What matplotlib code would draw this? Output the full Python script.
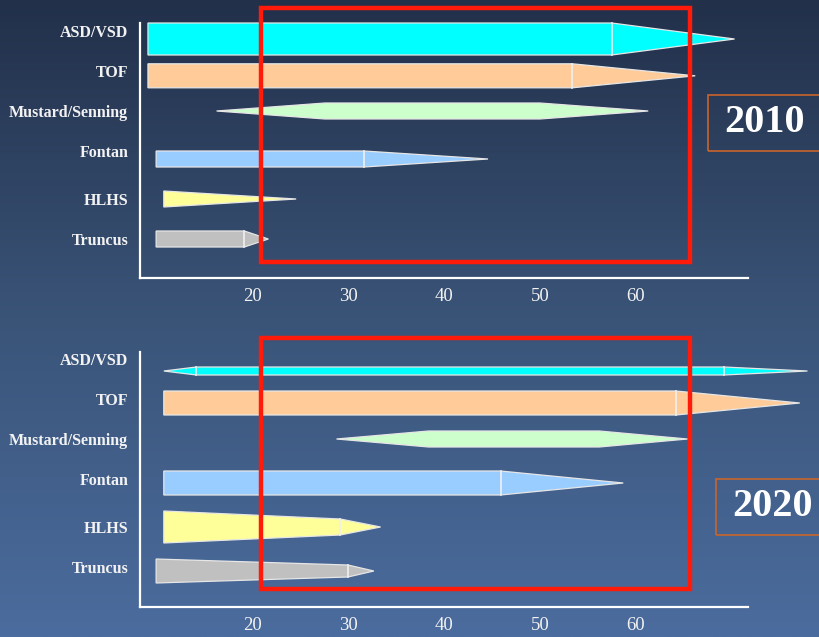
import matplotlib
matplotlib.use("Agg")
import matplotlib.pyplot as plt
import numpy as np
from matplotlib.colors import LinearSegmentedColormap
from matplotlib.patches import Polygon, Rectangle

# categories (top to bottom) and their fill colours
categories = ["ASD/VSD", "TOF", "Mustard/Senning", "Fontan", "HLHS", "Truncus"]
colors = ["#00ffff", "#ffcc99", "#ccffcc", "#99ccff", "#ffff99", "#c0c0c0"]

# each shape: stations along x (age) and half-thickness at each station
ages_2010 = [
    [9.15, 57.5, 70.3],
    [9.15, 53.4, 66.2],
    [16.3, 27.6, 50.0, 61.3],
    [10.0, 31.7, 44.6],
    [10.8, 24.6],
    [10.0, 19.2, 21.7],
]
size_2010 = [
    [0.4, 0.4, 0.0],
    [0.3, 0.3, 0.0],
    [0.0, 0.2, 0.2, 0.0],
    [0.2, 0.2, 0.0],
    [0.2, 0.0],
    [0.2, 0.2, 0.0],
]

ages_2020 = [
    [10.8, 14.2, 69.2, 77.9],
    [10.8, 64.2, 77.1],
    [28.8, 38.4, 56.2, 65.4],
    [10.8, 45.9, 58.7],
    [10.8, 29.2, 33.4],
    [10.0, 30.0, 32.7],
]
size_2020 = [
    [0.0, 0.1, 0.1, 0.0],
    [0.3, 0.3, 0.0],
    [0.0, 0.2, 0.2, 0.0],
    [0.3, 0.3, 0.0],
    [0.4, 0.2, 0.0],
    [0.3, 0.15, 0.0],
]

x_ticks = [20, 30, 40, 50, 60]
highlight = (20.9, 65.7)  # red box x range

# layout (row positions of the labels, small shift of the shapes)
label_rows = [0, 1, 2, 3, 4.2, 5.2]
shift_2010 = [0.2, 0.12, 0.0, 0.2, 0.0, 0.0]
shift_2020 = [0.3, 0.1, 0.0, 0.1, 0.0, 0.1]
no_divider = ["Mustard/Senning"]

W, H = 819, 637
fig = plt.figure(figsize=(W / 100, H / 100), dpi=100)

bg = fig.add_axes([0, 0, 1, 1])
grad = np.linspace(0, 1, 256).reshape(-1, 1)
cmap = LinearSegmentedColormap.from_list("bg", ["#22304a", "#3a5478", "#4b6c9e"])
bg.imshow(grad, aspect="auto", cmap=cmap, extent=[0, 1, 0, 1])
bg.axis("off")


def px_axes(left, top, right, bottom):
    return fig.add_axes([left / W, 1 - bottom / H, (right - left) / W, (bottom - top) / H])


def draw_panel(ax, ages, sizes, shifts, ylim, box_rows):
    ax.set_facecolor("none")
    for i, name in enumerate(categories):
        xs = ages[i]
        hs = sizes[i]
        yc = label_rows[i] + shifts[i]
        top = [(x, yc - h) for x, h in zip(xs, hs)]
        bot = [(x, yc + h) for x, h in zip(xs, hs)][::-1]
        poly = Polygon(top + bot, closed=True, facecolor=colors[i],
                       edgecolor="#e6e6e6", linewidth=0.9, clip_on=False, zorder=3)
        ax.add_patch(poly)
        if name not in no_divider:
            for x, h in zip(xs[1:-1], hs[1:-1]):
                if h > 0:
                    ax.plot([x, x], [yc - h, yc + h], color="#f0f0f0", lw=1.2,
                            clip_on=False, zorder=4)
    ax.set_xlim(8.32, 71.7)
    ax.set_ylim(*ylim)
    ax.set_xticks(x_ticks)
    ax.set_yticks(label_rows)
    ax.set_yticklabels(categories, fontfamily="Liberation Serif", fontweight="bold",
                       fontsize=11.5, color="#f2f2f2")
    ax.set_xticklabels([str(t) for t in x_ticks], fontfamily="Liberation Serif",
                       fontsize=13.5, color="#f2f2f2")
    ax.tick_params(axis="both", length=0)
    ax.tick_params(axis="y", pad=8.5)
    ax.tick_params(axis="x", pad=7.5)
    for s in ["top", "right"]:
        ax.spines[s].set_visible(False)
    for s in ["left", "bottom"]:
        ax.spines[s].set_color("white")
        ax.spines[s].set_linewidth(1.6)
    r = Rectangle((highlight[0], box_rows[0]), highlight[1] - highlight[0],
                  box_rows[1] - box_rows[0], fill=False, edgecolor="#ff1a0a",
                  linewidth=3.2, clip_on=False, zorder=6)
    ax.add_patch(r)


ax1 = px_axes(140, 23, 748, 278)
draw_panel(ax1, ages_2010, size_2010, shift_2010, (6.175, -0.2), (-0.575, 5.775))

ax2 = px_axes(140, 352, 748, 607)
draw_panel(ax2, ages_2020, size_2020, shift_2020, (6.2, -0.175), (-0.525, 5.75))


def year_box(label, left, top, bottom, cx):
    cy = (top + bottom) / 2
    bg.add_patch(Rectangle((left / W, 1 - bottom / H), (830 - left) / W, (bottom - top) / H,
                           fill=False, edgecolor="#c8652a", linewidth=1.2,
                           transform=fig.transFigure, clip_on=False, zorder=5))
    fig.text(cx / W, 1 - cy / H, label, ha="center", va="center", color="white",
             fontfamily="Liberation Serif", fontweight="bold", fontsize=29)


year_box("2010", 708, 95, 151, 764)
year_box("2020", 716, 479, 535, 772)

fig.savefig("out.png", dpi=100)
